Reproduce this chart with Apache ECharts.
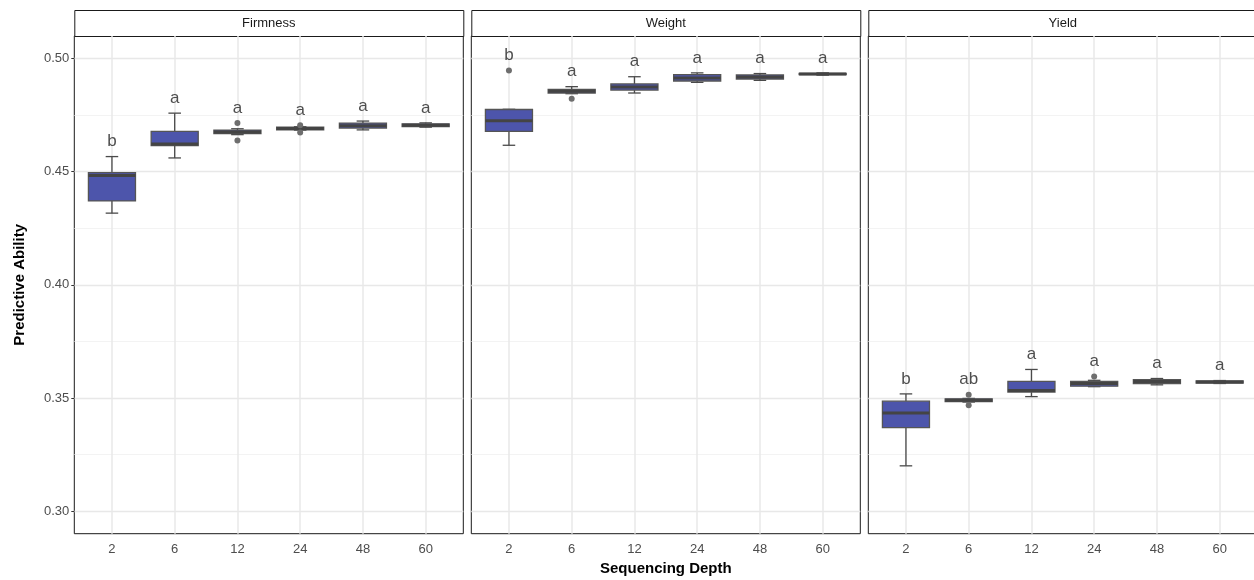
<!DOCTYPE html>
<html>
<head>
<meta charset="utf-8">
<script src="https://cdn.jsdelivr.net/npm/echarts@6.0.0/dist/echarts.min.js"></script>
<style>
  html, body { margin: 0; padding: 0; background: #fff; }
  #main { width: 1254px; height: 580px; }
</style>
</head>
<body>
<div id="main"></div>
<script>
// sequencing depths on the x axis, one facet per trait
var depths = ['2', '6', '12', '24', '48', '60'];
var traits = ['Firmness', 'Weight', 'Yield'];
var yMajor = [0.30, 0.35, 0.40, 0.45, 0.50];
var yMinor = [0.325, 0.375, 0.425, 0.475];

// [lower whisker, q1, median, q3, upper whisker] per depth
var firmnessBox = [
    [0.4317, 0.4371, 0.4483, 0.4496, 0.4567],
    [0.4561, 0.4616, 0.4623, 0.4678, 0.4759],
    [0.4664, 0.4669, 0.4676, 0.4684, 0.4690],
    [0.4684, 0.4685, 0.4691, 0.4697, 0.4699],
    [0.4685, 0.4693, 0.4703, 0.4715, 0.4724],
    [0.4697, 0.4700, 0.4706, 0.4712, 0.4716]
];
var weightBox = [
    [0.4617, 0.4678, 0.4725, 0.4775, 0.4776],
    [0.4845, 0.4848, 0.4856, 0.4864, 0.4876],
    [0.4848, 0.4861, 0.4875, 0.4888, 0.4920],
    [0.4895, 0.4901, 0.4914, 0.4929, 0.4937],
    [0.4904, 0.4910, 0.4919, 0.4928, 0.4934],
    [0.4927, 0.4929, 0.4932, 0.4935, 0.4937]
];
var yieldBox = [
    [0.3200, 0.3369, 0.3434, 0.3486, 0.3518],
    [0.3482, 0.3484, 0.3490, 0.3496, 0.3498],
    [0.3506, 0.3526, 0.3533, 0.3573, 0.3626],
    [0.3550, 0.3552, 0.3564, 0.3573, 0.3578],
    [0.3558, 0.3563, 0.3573, 0.3581, 0.3586],
    [0.3564, 0.3566, 0.3571, 0.3575, 0.3577]
];

// outliers: [depth index, value]
var firmnessOut = [[2, 0.4715], [2, 0.4638], [3, 0.4706], [3, 0.4673]];
var weightOut = [[0, 0.4947], [1, 0.4823]];
var yieldOut = [[1, 0.3514], [1, 0.3468], [3, 0.3595]];

// significance letters
var firmnessLetters = ['b', 'a', 'a', 'a', 'a', 'a'];
var weightLetters = ['b', 'a', 'a', 'a', 'a', 'a'];
var yieldLetters = ['b', 'ab', 'a', 'a', 'a', 'a'];

var boxes = [firmnessBox, weightBox, yieldBox];
var outs = [firmnessOut, weightOut, yieldOut];
var letters = [firmnessLetters, weightLetters, yieldLetters];

var panelLeft = [74.3, 471.3, 868.3];
var panelWidth = 389;
var panelTop = 36;
var panelHeight = 497.7;

var boxFill = '#4D55AB';
var boxLine = '#4A4A4A';

function renderBox(params, api) {
    var x = api.value(0);
    var lo = api.value(1), q1 = api.value(2), md = api.value(3), q3 = api.value(4), hi = api.value(5);
    var tl = api.coord([x - 0.375, q3]);
    var br = api.coord([x + 0.375, q1]);
    var c = api.coord([x, md]);
    var pHi = api.coord([x, hi]);
    var pLo = api.coord([x, lo]);
    var capL = api.coord([x - 0.1, hi])[0];
    var capR = api.coord([x + 0.1, hi])[0];
    var ls = { stroke: boxLine, lineWidth: 1.3 };
    return {
        type: 'group',
        children: [
            { type: 'line', shape: { x1: c[0], y1: pHi[1], x2: c[0], y2: tl[1] }, style: ls },
            { type: 'line', shape: { x1: c[0], y1: br[1], x2: c[0], y2: pLo[1] }, style: ls },
            { type: 'line', shape: { x1: capL, y1: pHi[1], x2: capR, y2: pHi[1] }, style: ls },
            { type: 'line', shape: { x1: capL, y1: pLo[1], x2: capR, y2: pLo[1] }, style: ls },
            { type: 'rect', shape: { x: tl[0], y: tl[1], width: br[0] - tl[0], height: Math.max(br[1] - tl[1], 0.5) },
              style: { fill: boxFill, stroke: '#555555', lineWidth: 1.3 } },
            { type: 'line', shape: { x1: tl[0], y1: c[1], x2: br[0], y2: c[1] }, style: { stroke: '#444444', lineWidth: 3 } }
        ]
    };
}

var grids = [], xAxes = [], yAxes = [], series = [], graphics = [];

traits.forEach(function (trait, i) {
    // the last facet runs a little past the right edge of the picture
    grids.push({
        left: panelLeft[i], top: panelTop, width: panelWidth, height: panelHeight,
        show: true, borderColor: '#1a1a1a', borderWidth: 1, backgroundColor: 'transparent',
        containLabel: false, outerBoundsMode: 'none'
    });
    xAxes.push({
        type: 'value', gridIndex: i, min: 0.4, max: 6.6,
        axisLine: { show: false },
        axisTick: { show: false, customValues: [1, 2, 3, 4, 5, 6] },
        axisLabel: {
            customValues: [1, 2, 3, 4, 5, 6],
            formatter: function (v) { return depths[Math.round(v) - 1]; },
            color: '#4D4D4D', fontSize: 13, margin: 9, fontFamily: 'Liberation Sans'
        },
        splitLine: { show: true, lineStyle: { color: '#E8E8E8', width: 1.5 } },
        name: i === 1 ? 'Sequencing Depth' : '',
        nameLocation: 'middle', nameGap: 28,
        nameTextStyle: { fontSize: 15, fontWeight: 'bold', color: '#000', fontFamily: 'Liberation Sans' }
    });
    yAxes.push({
        type: 'value', gridIndex: i, min: 0.29, max: 0.51,
        axisLine: { show: false },
        axisTick: { show: i === 0, customValues: yMajor, length: 3, lineStyle: { color: '#333', width: 1 } },
        axisLabel: {
            show: i === 0, customValues: yMajor,
            formatter: function (v) { return v.toFixed(2); },
            color: '#4D4D4D', fontSize: 13, margin: 5, fontFamily: 'Liberation Sans'
        },
        splitLine: { show: true, lineStyle: { color: '#E8E8E8', width: 1.3 } },
        name: i === 0 ? 'Predictive Ability' : '',
        nameLocation: 'middle', nameGap: 47,
        nameTextStyle: { fontSize: 15, fontWeight: 'bold', color: '#000', fontFamily: 'Liberation Sans' }
    });
    // minor gridlines
    yAxes.push({
        type: 'value', gridIndex: i, min: 0.29, max: 0.51, position: 'right',
        axisLine: { show: false },
        axisTick: { show: false, customValues: yMinor },
        axisLabel: { show: false, customValues: yMinor },
        splitLine: { show: true, lineStyle: { color: '#F0F0F0', width: 0.8 } }
    });

    var boxData = boxes[i].map(function (b, k) { return [k + 1].concat(b); });
    series.push({
        type: 'custom', xAxisIndex: i, yAxisIndex: 2 * i,
        renderItem: renderBox,
        encode: { x: 0, y: [1, 2, 3, 4, 5] },
        data: boxData, z: 3
    });
    series.push({
        type: 'scatter', xAxisIndex: i, yAxisIndex: 2 * i,
        symbolSize: 6, itemStyle: { color: '#6E6E6E', opacity: 1 },
        data: outs[i].map(function (o) { return [o[0] + 1, o[1]]; }), z: 4
    });
    var letterData = letters[i].map(function (l, k) {
        var top = boxes[i][k][4];
        outs[i].forEach(function (o) { if (o[0] === k && o[1] > top) top = o[1]; });
        return [k + 1, top, l];
    });
    series.push({
        type: 'scatter', xAxisIndex: i, yAxisIndex: 2 * i,
        symbolSize: 1, itemStyle: { color: 'transparent' },
        label: {
            show: true, position: 'top', distance: 6,
            formatter: function (p) { return p.value[2]; },
            fontSize: 17, color: '#222', fontFamily: 'Liberation Sans'
        },
        data: letterData, z: 5
    });

    graphics.push({
        type: 'rect', left: panelLeft[i], top: 10,
        shape: { width: panelWidth, height: 26 },
        style: { fill: '#fff', stroke: '#1a1a1a', lineWidth: 1 }
    });
    graphics.push({
        type: 'text', x: panelLeft[i] + panelWidth / 2, y: 23,
        style: { text: trait, fill: '#1A1A1A', fontSize: 13, fontFamily: 'Liberation Sans', align: 'center', verticalAlign: 'middle' }
    });
});

var chart = echarts.init(document.getElementById('main'));
chart.setOption({
    animation: false,
    backgroundColor: '#fff',
    grid: grids,
    xAxis: xAxes,
    yAxis: yAxes,
    series: series,
    graphic: graphics
});
</script>
</body>
</html>
